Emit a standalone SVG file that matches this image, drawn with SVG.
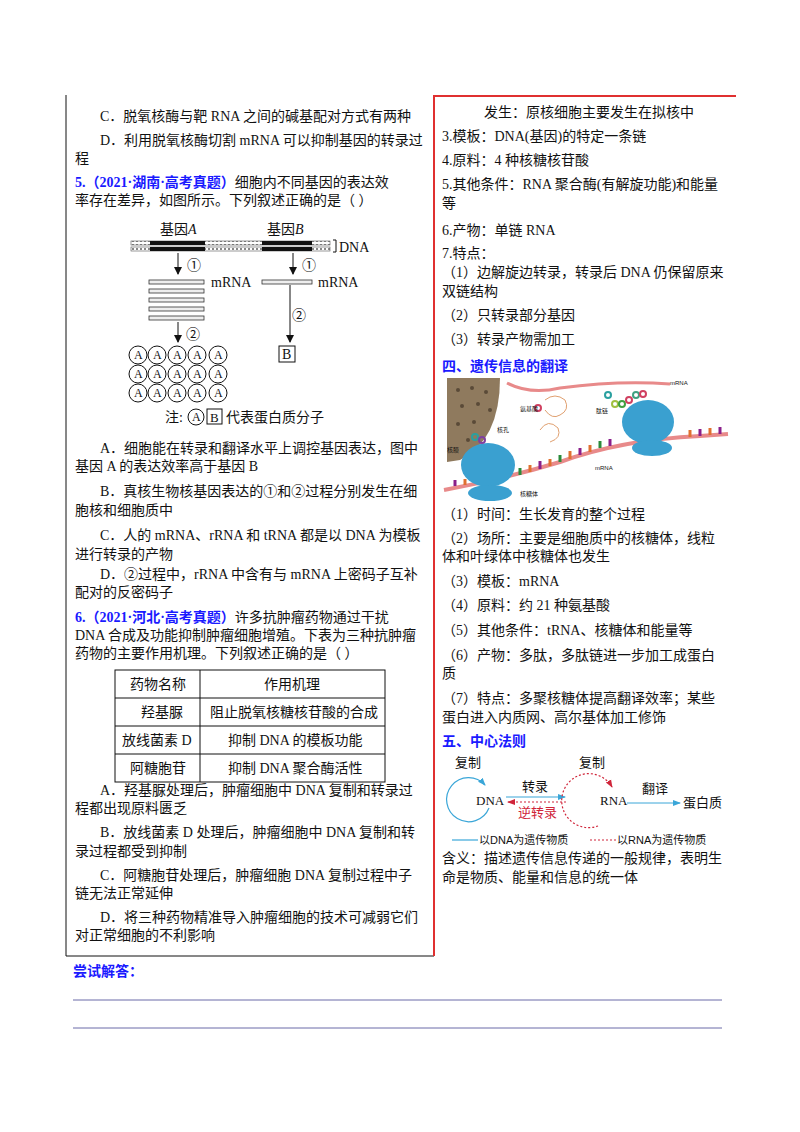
<svg xmlns="http://www.w3.org/2000/svg" width="800" height="1132" viewBox="0 0 800 1132">
<defs>
<style>
text{font-family:"Liberation Serif","Noto Sans CJK SC",serif;font-size:14px;fill:#111}
.b{fill:#1a1aff;font-weight:bold}
.f13{font-size:13px}
.f12{font-size:12px}
.sm{font-family:"Liberation Sans","Noto Sans CJK SC",sans-serif;font-size:11px}
.t{font-family:"Liberation Sans","Noto Sans CJK SC",sans-serif;font-size:6px}
.ln{stroke:#111;fill:none}
</style>
<marker id="ar" markerWidth="8" markerHeight="8" refX="7" refY="4" orient="auto" markerUnits="userSpaceOnUse"><path d="M0,0 L8,4 L0,8 Z" fill="#111"/></marker>
<marker id="ab" markerWidth="8" markerHeight="8" refX="7" refY="4" orient="auto" markerUnits="userSpaceOnUse"><path d="M0,1 L8,4 L0,7 Z" fill="#3aa6d8"/></marker>
<marker id="ax" markerWidth="8" markerHeight="8" refX="7" refY="4" orient="auto" markerUnits="userSpaceOnUse"><path d="M0,1 L8,4 L0,7 Z" fill="#d0253a"/></marker>
<pattern id="dn" width="4" height="4" patternUnits="userSpaceOnUse"><rect width="4" height="4" fill="#fff"/><rect width="2" height="2" fill="#888"/></pattern>
</defs>
<rect width="800" height="1132" fill="#fff"/>
<g id="frame">
<line x1="66" y1="95" x2="66" y2="956" stroke="#111"/>
<line x1="66" y1="956" x2="434" y2="956" stroke="#111"/>
<line x1="434" y1="95" x2="434" y2="956" stroke="#e03030" stroke-width="2"/>
<line x1="434" y1="96" x2="736" y2="96" stroke="#e03030" stroke-width="2"/>
<line x1="73" y1="1000" x2="722" y2="1000" stroke="#6a6aa8"/>
<line x1="73" y1="1028" x2="722" y2="1028" stroke="#6a6aa8"/>
</g>
<g id="left-text">
<text x="100" y="121">C．脱氧核酶与靶 RNA 之间的碱基配对方式有两种</text>
<text x="100" y="145">D．利用脱氧核酶切割 mRNA 可以抑制基因的转录过</text>
<text x="75" y="163">程</text>
<text x="75" y="187"><tspan class="b">5.（2021·湖南·高考真题）</tspan>细胞内不同基因的表达效</text>
<text x="75" y="205">率存在差异，如图所示。下列叙述正确的是（    ）</text>
<text x="100" y="453">A．细胞能在转录和翻译水平上调控基因表达，图中</text>
<text x="75" y="471">基因 A 的表达效率高于基因 B</text>
<text x="100" y="496">B．真核生物核基因表达的①和②过程分别发生在细</text>
<text x="75" y="515">胞核和细胞质中</text>
<text x="100" y="540">C．人的 mRNA、rRNA 和 tRNA 都是以 DNA 为模板</text>
<text x="75" y="559">进行转录的产物</text>
<text x="100" y="579">D．②过程中，rRNA 中含有与 mRNA 上密码子互补</text>
<text x="75" y="597">配对的反密码子</text>
<text x="75" y="622"><tspan class="b">6.（2021·河北·高考真题）</tspan>许多抗肿瘤药物通过干扰</text>
<text x="75" y="640">DNA 合成及功能抑制肿瘤细胞增殖。下表为三种抗肿瘤</text>
<text x="75" y="658">药物的主要作用机理。下列叙述正确的是（    ）</text>
<text x="100" y="795">A．羟基脲处理后，肿瘤细胞中 DNA 复制和转录过</text>
<text x="75" y="813">程都出现原料匮乏</text>
<text x="100" y="837">B．放线菌素 D 处理后，肿瘤细胞中 DNA 复制和转</text>
<text x="75" y="856">录过程都受到抑制</text>
<text x="100" y="880">C．阿糖胞苷处理后，肿瘤细胞 DNA 复制过程中子</text>
<text x="75" y="898">链无法正常延伸</text>
<text x="100" y="922">D．将三种药物精准导入肿瘤细胞的技术可减弱它们</text>
<text x="75" y="940">对正常细胞的不利影响</text>
<text x="73" y="976" class="b">尝试解答：</text>
</g>
<g id="table">
<rect x="115" y="670" width="270" height="112" fill="none" stroke="#111"/>
<line x1="115" y1="698" x2="385" y2="698" stroke="#111"/>
<line x1="115" y1="726" x2="385" y2="726" stroke="#111"/>
<line x1="115" y1="754" x2="385" y2="754" stroke="#111"/>
<line x1="200" y1="670" x2="200" y2="782" stroke="#111"/>
<text x="130" y="689">药物名称</text><text x="264" y="689">作用机理</text>
<text x="141" y="717">羟基脲</text><text x="210" y="717">阻止脱氧核糖核苷酸的合成</text>
<text x="122" y="745">放线菌素 D</text><text x="228" y="745">抑制 DNA 的模板功能</text>
<text x="130" y="773">阿糖胞苷</text><text x="228" y="773">抑制 DNA 聚合酶活性</text>
</g>
<g id="gene-diagram">
<text x="160" y="234">基因<tspan font-style="italic">A</tspan></text>
<text x="267" y="234">基因<tspan font-style="italic">B</tspan></text>
<rect x="131" y="241" width="199" height="4" fill="url(#dn)" stroke="#555" stroke-width="0.6"/>
<rect x="131" y="247" width="199" height="4" fill="url(#dn)" stroke="#555" stroke-width="0.6"/>
<rect x="150" y="241" width="55" height="4" fill="#111"/><rect x="150" y="247" width="55" height="4" fill="#111"/>
<rect x="262" y="241" width="50" height="4" fill="#111"/><rect x="262" y="247" width="50" height="4" fill="#111"/>
<path d="M333,240 h3 v12 h-3" class="ln"/>
<text x="339" y="252">DNA</text>
<line x1="178" y1="253" x2="178" y2="274" stroke="#111" marker-end="url(#ar)"/>
<text x="187" y="270">①</text>
<line x1="293" y1="253" x2="293" y2="274" stroke="#111" marker-end="url(#ar)"/>
<text x="302" y="270">①</text>
<g fill="#eee" stroke="#333" stroke-width="0.8">
<rect x="149" y="280" width="55" height="4"/><rect x="149" y="289" width="55" height="4"/><rect x="149" y="298" width="55" height="4"/><rect x="149" y="307" width="55" height="4"/><rect x="149" y="316" width="55" height="4"/>
<rect x="262" y="280" width="50" height="4"/>
</g>
<text x="211" y="287">mRNA</text><text x="318" y="287">mRNA</text>
<line x1="290" y1="285" x2="290" y2="342" stroke="#111" marker-end="url(#ar)"/>
<text x="292" y="320">②</text>
<rect x="279" y="346" width="16" height="16" fill="none" stroke="#111"/>
<text x="282" y="359">B</text>
<line x1="178" y1="322" x2="178" y2="342" stroke="#111" marker-end="url(#ar)"/>
<text x="186" y="339">②</text>
<g id="circles">
<g fill="none" stroke="#111">
<circle cx="138" cy="355" r="9"/><circle cx="157" cy="355" r="9"/><circle cx="177" cy="355" r="9"/><circle cx="197" cy="355" r="9"/><circle cx="218" cy="355" r="9"/>
<circle cx="138" cy="374" r="9"/><circle cx="157" cy="374" r="9"/><circle cx="177" cy="374" r="9"/><circle cx="197" cy="374" r="9"/><circle cx="218" cy="374" r="9"/>
<circle cx="138" cy="393" r="9"/><circle cx="157" cy="393" r="9"/><circle cx="177" cy="393" r="9"/><circle cx="197" cy="393" r="9"/><circle cx="218" cy="393" r="9"/>
</g>
<g class="f12">
<text class="f12" x="134" y="359">A</text><text class="f12" x="153" y="359">A</text><text class="f12" x="173" y="359">A</text><text class="f12" x="193" y="359">A</text><text class="f12" x="214" y="359">A</text>
<text class="f12" x="134" y="378">A</text><text class="f12" x="153" y="378">A</text><text class="f12" x="173" y="378">A</text><text class="f12" x="193" y="378">A</text><text class="f12" x="214" y="378">A</text>
<text class="f12" x="134" y="397">A</text><text class="f12" x="153" y="397">A</text><text class="f12" x="173" y="397">A</text><text class="f12" x="193" y="397">A</text><text class="f12" x="214" y="397">A</text>
</g>
</g>
<text x="165" y="422">注:</text>
<circle cx="196" cy="417" r="8" fill="none" stroke="#111"/><text class="f12" x="192" y="421">A</text>
<rect x="207" y="409" width="15" height="15" fill="none" stroke="#111"/><text class="f13" x="210" y="422">B</text>
<text x="226" y="422">代表蛋白质分子</text>
</g>
<g id="right-text">
<text x="484" y="117">发生：原核细胞主要发生在拟核中</text>
<text x="442" y="141">3.模板：DNA(基因)的特定一条链</text>
<text x="442" y="165">4.原料：4 种核糖核苷酸</text>
<text x="442" y="189">5.其他条件：RNA 聚合酶(有解旋功能)和能量</text>
<text x="442" y="208">等</text>
<text x="442" y="235">6.产物：单链 RNA</text>
<text x="442" y="258">7.特点：</text>
<text x="442" y="277">（1）边解旋边转录，转录后 DNA 仍保留原来</text>
<text x="442" y="296">双链结构</text>
<text x="442" y="320">（2）只转录部分基因</text>
<text x="442" y="344">（3）转录产物需加工</text>
<text x="442" y="371" class="b">四、遗传信息的翻译</text>
<text x="442" y="519">（1）时间：生长发育的整个过程</text>
<text x="442" y="543">（2）场所：主要是细胞质中的核糖体，线粒</text>
<text x="442" y="561">体和叶绿体中核糖体也发生</text>
<text x="442" y="586">（3）模板：mRNA</text>
<text x="442" y="610">（4）原料：约 21 种氨基酸</text>
<text x="442" y="635">（5）其他条件：tRNA、核糖体和能量等</text>
<text x="442" y="660">（6）产物：多肽，多肽链进一步加工成蛋白</text>
<text x="442" y="678">质</text>
<text x="442" y="703">（7）特点：多聚核糖体提高翻译效率；某些</text>
<text x="442" y="722">蛋白进入内质网、高尔基体加工修饰</text>
<text x="442" y="746" class="b">五、中心法则</text>
<text x="442" y="863">含义：描述遗传信息传递的一般规律，表明生</text>
<text x="442" y="882">命是物质、能量和信息的统一体</text>
</g>
<g id="translation-picture">
<path d="M447,378 L500,378 Q500,440 460,460 L447,462 Z" fill="#8f7a5e"/>
<g fill="#5a4a38"><circle cx="458" cy="390" r="2"/><circle cx="472" cy="388" r="2"/><circle cx="486" cy="392" r="2"/><circle cx="462" cy="406" r="2"/><circle cx="478" cy="404" r="2"/><circle cx="490" cy="410" r="2"/><circle cx="458" cy="424" r="2"/><circle cx="474" cy="422" r="2"/><circle cx="468" cy="440" r="2"/></g>
<path d="M507,383 Q530,395 560,388 Q620,380 670,384" fill="none" stroke="#e88a8a" stroke-width="3"/>
<text class="t" x="670" y="385">mRNA</text>
<path d="M444,490 Q500,480 560,462 Q620,440 700,436 L728,434" fill="none" stroke="#e88a8a" stroke-width="4"/>
<g stroke-width="3">
<line x1="455" y1="486" x2="455" y2="480" stroke="#8a1f8a"/><line x1="465" y1="485" x2="465" y2="479" stroke="#e07030"/><line x1="520" y1="475" x2="520" y2="468" stroke="#2a8a3a"/><line x1="530" y1="472" x2="530" y2="465" stroke="#e07030"/><line x1="540" y1="469" x2="540" y2="461" stroke="#8a1f8a"/><line x1="550" y1="466" x2="550" y2="459" stroke="#e07030"/><line x1="560" y1="462" x2="560" y2="455" stroke="#2a8a3a"/><line x1="570" y1="459" x2="570" y2="451" stroke="#e07030"/><line x1="580" y1="455" x2="580" y2="448" stroke="#8a1f8a"/><line x1="590" y1="452" x2="590" y2="445" stroke="#e07030"/><line x1="600" y1="448" x2="600" y2="441" stroke="#2a8a3a"/><line x1="610" y1="446" x2="610" y2="439" stroke="#8a1f8a"/><line x1="690" y1="437" x2="690" y2="430" stroke="#e07030"/><line x1="700" y1="436" x2="700" y2="429" stroke="#8a1f8a"/><line x1="710" y1="435" x2="710" y2="428" stroke="#e07030"/><line x1="720" y1="434" x2="720" y2="427" stroke="#8a1f8a"/>
</g>
<ellipse cx="488" cy="465" rx="27" ry="22" fill="#3aa0d0"/><ellipse cx="490" cy="493" rx="22" ry="8" fill="#3aa0d0"/>
<ellipse cx="648" cy="422" rx="26" ry="22" fill="#3aa0d0"/><ellipse cx="652" cy="448" rx="20" ry="8" fill="#3aa0d0"/>
<g fill="none" stroke-width="2"><circle cx="608" cy="395" r="3" stroke="#2aa0a0"/><circle cx="615" cy="404" r="3" stroke="#a0c040"/><circle cx="622" cy="404" r="3" stroke="#40a040"/><circle cx="629" cy="400" r="3" stroke="#d04060"/><circle cx="636" cy="395" r="3" stroke="#40a080"/><circle cx="643" cy="394" r="3" stroke="#d04060"/><circle cx="475" cy="437" r="3" stroke="#2aa0a0"/><circle cx="482" cy="440" r="3" stroke="#8040a0"/><circle cx="538" cy="408" r="3" stroke="#d04060"/></g>
<path d="M545,400 q10,-8 20,0 q5,10 -5,15 q-8,5 -15,-5" fill="none" stroke="#e0a070"/>
<path d="M540,430 q8,-12 18,-2 q4,10 -8,14" fill="none" stroke="#e0a070"/>
<text class="t" x="520" y="411">氨基酸</text>
<text class="t" x="596" y="413">肽链</text>
<text class="t" x="497" y="432">核孔</text>
<text class="t" x="447" y="452">核膜</text>
<text class="t" x="595" y="470">mRNA</text>
<text class="t" x="520" y="496">核糖体</text>
</g>
<g id="central-dogma">
<text class="f13" x="455" y="767">复制</text>
<path d="M489,808 A22,22 0 1,1 485,785" fill="none" stroke="#3aa6d8" stroke-width="1.2" marker-end="url(#ab)"/>
<text class="f13" x="476" y="805">DNA</text>
<text class="f13" x="522" y="791">转录</text>
<line x1="506" y1="797" x2="565" y2="797" stroke="#3aa6d8" stroke-width="1.2" marker-end="url(#ab)"/>
<line x1="566" y1="802" x2="508" y2="802" stroke="#d0253a" stroke-width="1.2" stroke-dasharray="2,2" marker-end="url(#ax)"/>
<text class="f13" x="518" y="817" style="fill:#d0253a">逆转录</text>
<text class="f13" x="579" y="767">复制</text>
<path d="M598,826 A27,27 0 1,1 612,787" fill="none" stroke="#d0253a" stroke-width="1.2" stroke-dasharray="2,2" marker-end="url(#ax)"/>
<text class="f13" x="600" y="805">RNA</text>
<text class="f13" x="642" y="793">翻译</text>
<line x1="627" y1="803" x2="680" y2="803" stroke="#3aa6d8" stroke-width="1" marker-end="url(#ab)"/>
<text class="f13" x="683" y="807">蛋白质</text>
<line x1="452" y1="840" x2="478" y2="840" stroke="#3aa6d8" stroke-width="1.2"/>
<text class="sm" x="479" y="844">以DNA为遗传物质</text>
<line x1="590" y1="840" x2="616" y2="840" stroke="#d0253a" stroke-width="1.2" stroke-dasharray="2,2"/>
<text class="sm" x="617" y="844">以RNA为遗传物质</text>
</g>
</svg>
